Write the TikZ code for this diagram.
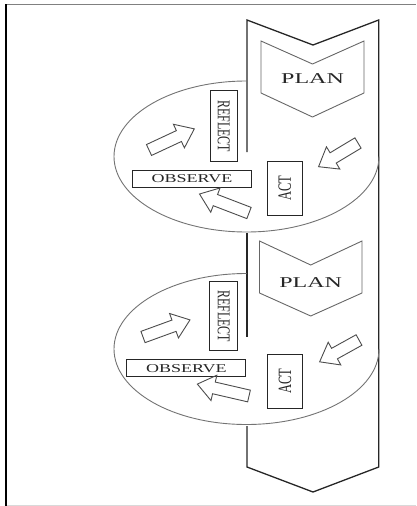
\documentclass[tikz,border=0pt]{standalone}
\usepackage{fontspec}
\setmainfont{Liberation Serif}
% outline block arrow: tail centre (#1,#2), page angle #3, length #4
\newcommand\blockarrow[4]{%
  \draw[arrowline, shift={(#1,#2)}, rotate=#3]
    (0,-6) -- ({#4-17},-6) -- ({#4-17},-13) -- (#4,0) -- ({#4-17},13)
    -- ({#4-17},6) -- (0,6) -- cycle;}
\begin{document}
\begin{tikzpicture}[x=1pt,y=-1pt,
  column/.style={draw=black!85, line width=1.3pt, line join=miter},
  chev/.style={draw=black!60, line width=0.9pt},
  loopline/.style={draw=black!55, line width=0.9pt},
  arrowline/.style={draw=black!70, line width=0.9pt, line join=miter},
  tag/.style={draw=black!85, line width=1pt, fill=white, inner sep=0pt},
  word/.style={text=black!85, inner sep=0pt, xscale=1.5},
  bigword/.style={text=black!85, inner sep=0pt, xscale=1.6,
    font=\fontsize{15}{15}\selectfont},
  smallword/.style={word, font=\fontsize{12}{12}\selectfont},
  actword/.style={word, font=\fontsize{12.5}{12.5}\selectfont}]
\useasboundingbox (0,0) rectangle (416,506);

% page frame
\draw[black!50, line width=1.2pt] (6,4.5) -- (416,4.5);
\draw[black!15, line width=1pt] (6,505) -- (416,505);
\draw[black, line width=1.4pt] (6,4) -- (6,506);

% the long chevron column
\draw[column] (247,152) -- (247,20) -- (313,45) -- (378.7,20)
  -- (378.7,467) -- (313,492) -- (247,467) -- (247,426);
\draw[column] (247,233) -- (247,337);

% ---------- first cycle ----------
\draw[loopline] (246.5,81) arc[start angle=90, end angle=360,
  x radius=132.5pt, y radius=75.5pt];
\draw[chev] (261,41) -- (312.5,64) -- (364,41) -- (364,93)
  -- (312.5,117) -- (261,93) -- cycle;
\node[bigword] (plan1) at (312.5,79) {PLAN};

\node[tag, minimum width=27.3pt, minimum height=71pt] (reflectbox1) at (223.7,126.2) {};
\node[smallword, rotate=-90] (reflect1) at (reflectbox1.center) {REFLECT};
\node[tag, minimum width=35pt, minimum height=54pt] (actbox1) at (284.8,188) {};
\node[actword, rotate=90] (act1) at (actbox1.center) {ACT};
\node[tag, minimum width=119.4pt, minimum height=17.3pt] (observebox1) at (192,178.7) {};
\node[smallword] (observe1) at (observebox1.center) {OBSERVE};

\blockarrow{149}{150}{25}{50}
\blockarrow{358}{143}{211}{46}
\blockarrow{249}{213}{159}{53}

% ---------- second cycle ----------
\draw[loopline] (246.5,273.5) arc[start angle=90, end angle=360,
  x radius=132.5pt, y radius=75.5pt];
\draw[chev] (259.5,241) -- (310.7,265) -- (362,241) -- (362,293)
  -- (310.7,316) -- (259.5,293) -- cycle;
\node[bigword] (plan2) at (310.7,283) {PLAN};

\node[tag, minimum width=27.7pt, minimum height=69pt] (reflectbox2) at (223.8,316.2) {};
\node[smallword, rotate=-90] (reflect2) at (reflectbox2.center) {REFLECT};
\node[tag, minimum width=34.6pt, minimum height=54pt] (actbox2) at (285,381.3) {};
\node[actword, rotate=90] (act2) at (actbox2.center) {ACT};
\node[tag, minimum width=119.3pt, minimum height=16.7pt] (observebox2) at (186.3,368.3) {};
\node[smallword] (observe2) at (observebox2.center) {OBSERVE};

\blockarrow{143}{337}{20}{50}
\blockarrow{359}{340}{209}{45}
\blockarrow{249}{396}{167}{53}
\end{tikzpicture}
\end{document}
